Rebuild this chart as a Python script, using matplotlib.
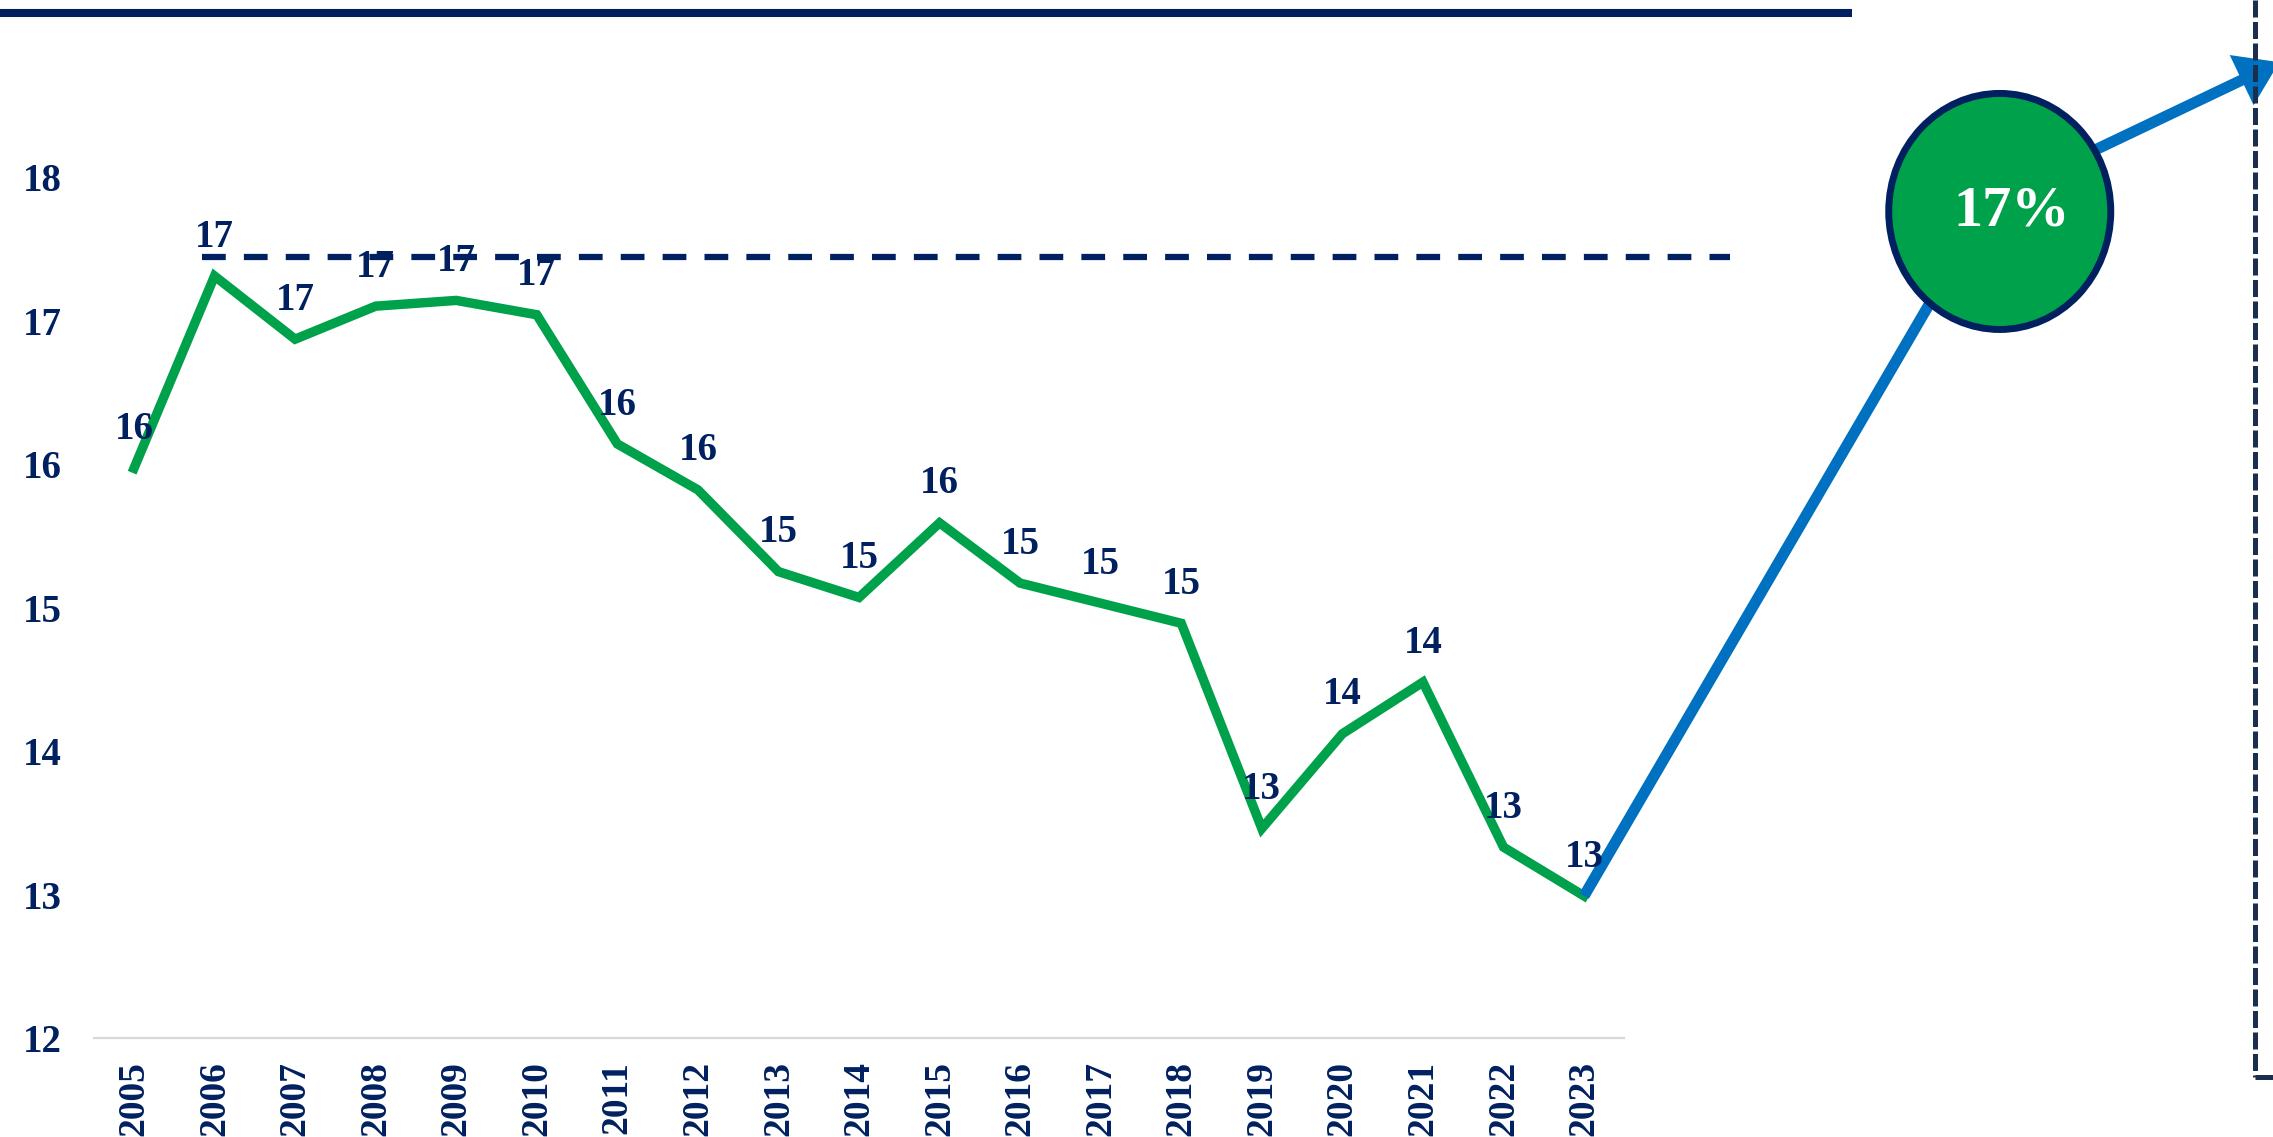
import matplotlib
matplotlib.use('Agg')
import matplotlib.pyplot as plt
from matplotlib.patches import Ellipse, FancyArrowPatch, ArrowStyle
from matplotlib.lines import Line2D

# ---- data ----
years = [str(y) for y in range(2005, 2024)]
values = [15.97, 17.31, 16.87, 17.10, 17.14, 17.04, 16.14, 15.82, 15.25, 15.07,
          15.59, 15.17, 15.03, 14.89, 13.46, 14.12, 14.48, 13.33, 12.99]
y_ticks = [12, 13, 14, 15, 16, 17, 18]
ref_level = 17.44
ref_span = [0.84, 19.81]
proj_x = [18, 23.04, 26.63]
proj_y = [12.99, 17.84, 18.80]
badge_x, badge_y = 23.16, 17.76
badge_text = '17%'

NAVY = '#002060'
GREEN = '#00A14B'
BLUE = '#0070C0'
SLATE = '#1A2F4E'
FONT = 'Liberation Serif'

fig = plt.figure(figsize=(22.73, 11.37), dpi=100)
ax = fig.add_axes([0.04122, 0.08707, 0.6734, 0.9087])
xs = list(range(len(years)))

ax.set_xlim(-0.5, len(years) - 0.5)
ax.set_ylim(12, 19.2)

# main series
ax.plot(xs, values, color=GREEN, lw=6.8, solid_joinstyle='miter', zorder=3, clip_on=False)

# labels
for x, v in zip(xs, values):
    ax.annotate(f'{round(v):d}', (x, v), xytext=(0, 28), textcoords='offset points',
                ha='center', va='center', fontsize=28, fontweight='bold',
                fontfamily=FONT, color=NAVY, zorder=6, annotation_clip=False)

# reference dashed line
ax.plot(ref_span, [ref_level, ref_level], color=NAVY, lw=4.5, dashes=(3.8, 2.9),
        solid_capstyle='butt', dash_capstyle='butt', clip_on=False, zorder=2)

# projection line + arrow
ax.plot(proj_x[:2], proj_y[:2], color=BLUE, lw=8, solid_capstyle='butt',
        clip_on=False, zorder=4)
arrow = FancyArrowPatch((proj_x[1], proj_y[1]), (proj_x[2], proj_y[2]),
                        arrowstyle=ArrowStyle.Simple(head_length=30, head_width=40, tail_width=8),
                        mutation_scale=1, fc=BLUE, ec='none', lw=0,
                        shrinkA=0, shrinkB=0, clip_on=False, zorder=4)
ax.add_patch(arrow)

# badge
circle = Ellipse((badge_x, badge_y), width=2.756, height=1.645, fc=GREEN, ec=NAVY,
                 lw=5, clip_on=False, zorder=5)
ax.add_patch(circle)
ax.text(badge_x + 0.15, badge_y, badge_text, ha='center', va='center', fontsize=42,
        fontweight='bold', fontfamily=FONT, color='white', zorder=7, clip_on=False)

# axes styling
ax.set_xticks(xs)
ax.set_xticklabels(years, rotation=90, fontsize=27, fontweight='bold',
                   fontfamily=FONT, color=NAVY)
ax.set_yticks(y_ticks)
ax.set_yticklabels([str(t) for t in y_ticks], fontsize=28, fontweight='bold',
                   fontfamily=FONT, color=NAVY)
ax.tick_params(axis='x', length=0, pad=16.5)
ax.tick_params(axis='y', length=0, pad=23)
for s in ['top', 'right', 'left']:
    ax.spines[s].set_visible(False)
ax.spines['bottom'].set_color('#D9D9D9')
ax.spines['bottom'].set_linewidth(1.6)
ax.patch.set_alpha(0)

# decorations
fig.add_artist(Line2D([0, 0.8148], [0.9883, 0.9883], transform=fig.transFigure,
                      color=NAVY, lw=5.8, solid_capstyle='butt'))
fig.add_artist(Line2D([0.9923, 0.9923], [1.0, 0.0528], transform=fig.transFigure,
                      color=SLATE, lw=3.6, dashes=(3.4, 0.9), dash_capstyle='butt',
                      zorder=10))
fig.add_artist(Line2D([0.9923, 1.0], [0.0528, 0.0528], transform=fig.transFigure,
                      color=SLATE, lw=3.6, solid_capstyle='butt', zorder=10))

fig.savefig('out.png', dpi=100)
